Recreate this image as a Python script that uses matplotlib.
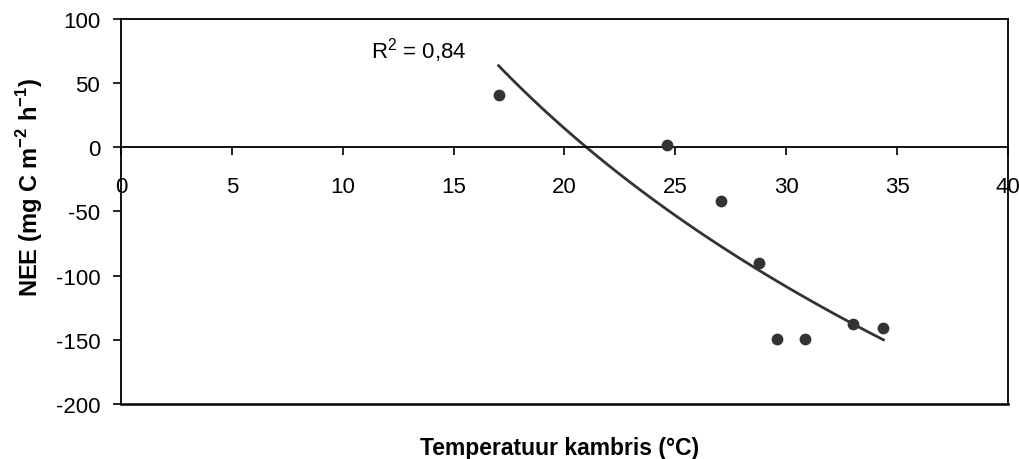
import matplotlib.pyplot as plt
import numpy as np

plt.rcParams['font.family'] = ['Liberation Sans', 'DejaVu Sans']
plt.rcParams['mathtext.fontset'] = 'custom'
plt.rcParams['mathtext.rm'] = 'Liberation Sans'
plt.rcParams['mathtext.bf'] = 'Liberation Sans:bold'
plt.rcParams['axes.unicode_minus'] = False

# data
temp = [17.03, 24.63, 27.05, 28.77, 29.59, 30.84, 33.03, 34.38]
nee = [40.9, 1.8, -42.1, -90.5, -149.0, -149.0, -138.0, -141.0]
x_ticks = [0, 5, 10, 15, 20, 25, 30, 35, 40]
y_ticks = [-200, -150, -100, -50, 0, 50, 100]
r2_label = "R$^2$ = 0,84"

col = "#333333"
fs = 16

fig = plt.figure(figsize=(10.2, 4.6), dpi=100)
ax = fig.add_axes([121 / 1020, 55 / 460, 887 / 1020, 385 / 460])

ax.scatter(temp, nee, s=72, color=col, zorder=3, linewidths=0)

# logarithmic trendline, fitted on ln(x)
coef = np.polyfit(np.log(temp), nee, 1)
xs = np.linspace(min(temp), max(temp), 100)
ax.plot(xs, np.polyval(coef, np.log(xs)), color=col, lw=2.0, zorder=2)

ax.set_xlim(0, 40)
ax.set_ylim(-200, 100)
ax.set_xticks(x_ticks)
ax.set_yticks(y_ticks)

# x axis crosses at zero, plot area keeps its border
ax.spines['bottom'].set_position(('data', 0))
for s in ax.spines.values():
    s.set_linewidth(1.3)
ax.axhline(-200, color='black', lw=1.8, clip_on=False)
ax.tick_params(axis='x', direction='out', length=6, width=1.2, pad=15, labelsize=fs)
ax.tick_params(axis='y', direction='out', length=6, width=1.2, pad=9, labelsize=fs)

ax.text(11.26, 76, r2_label, fontsize=fs, va='center', ha='left')

fig.text(30 / 1020, 1 - 188 / 460, r"NEE (mg C m$^{\mathbf{-2}}$ h$^{\mathbf{-1}}$)",
         fontsize=17, fontweight='bold', rotation=90, ha='center', va='center')
fig.text(560 / 1020, 1 - 455 / 460, "Temperatuur kambris (°C)", fontsize=16.5,
         fontweight='bold', ha='center', va='baseline')

fig.savefig("out.png", dpi=100)
